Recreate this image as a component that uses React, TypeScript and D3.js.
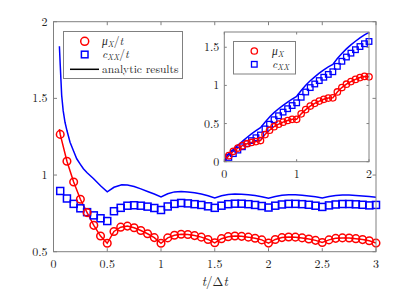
import React from "react";
import * as d3 from "d3";

// sample times (multiples of Δt/16)
const tMarks = d3.range(1, 49).map((i) => i / 16);

// μ_X / t  (markers)
const muVals = [
  1.265, 1.09, 0.955, 0.842, 0.755, 0.672, 0.602, 0.555,
  0.632, 0.66, 0.667, 0.656, 0.638, 0.617, 0.592, 0.555,
  0.59, 0.607, 0.614, 0.612, 0.605, 0.595, 0.58, 0.558,
  0.585, 0.598, 0.602, 0.6, 0.595, 0.588, 0.577, 0.556,
  0.58, 0.592, 0.596, 0.595, 0.59, 0.583, 0.574, 0.56,
  0.577, 0.587, 0.59, 0.589, 0.585, 0.579, 0.571, 0.556,
];

// c_XX / t  (markers)
const cVals = [
  0.896, 0.847, 0.812, 0.783, 0.758, 0.737, 0.718, 0.7,
  0.764, 0.786, 0.8, 0.803, 0.8, 0.794, 0.785, 0.772,
  0.795, 0.812, 0.818, 0.815, 0.81, 0.805, 0.796, 0.786,
  0.8, 0.81, 0.813, 0.813, 0.81, 0.805, 0.798, 0.788,
  0.8, 0.808, 0.812, 0.812, 0.81, 0.806, 0.8, 0.792,
  0.802, 0.808, 0.811, 0.811, 0.809, 0.806, 0.802, 0.805,
];

// analytic c_XX / t (line)
const cLineT = [
  0.055, 0.0625, 0.076, 0.09, 0.107, 0.125, 0.154, 0.1875, 0.216, 0.25, 0.278, 0.3125, 0.371, 0.4375, 0.5,
  0.5625, 0.635, 0.6875, 0.75, 0.8125, 0.875, 0.9375, 1.0,
  1.0625, 1.125, 1.1875, 1.25, 1.3125, 1.375, 1.4375, 1.5,
  1.5625, 1.625, 1.6875, 1.75, 1.8125, 1.875, 1.9375, 2.0,
  2.0625, 2.125, 2.1875, 2.25, 2.3125, 2.375, 2.4375, 2.5,
  2.5625, 2.625, 2.6875, 2.75, 2.8125, 2.875, 2.9375, 3.0,
];
const cLineV = [
  1.84, 1.72, 1.52, 1.42, 1.344, 1.29, 1.214, 1.155, 1.106, 1.07, 1.041, 1.015, 0.977, 0.93, 0.89,
  0.92, 0.937, 0.935, 0.925, 0.91, 0.893, 0.876, 0.857,
  0.878, 0.89, 0.893, 0.89, 0.884, 0.876, 0.865, 0.85,
  0.865, 0.873, 0.876, 0.875, 0.871, 0.866, 0.858, 0.848,
  0.86, 0.868, 0.871, 0.871, 0.868, 0.864, 0.858, 0.85,
  0.86, 0.866, 0.869, 0.869, 0.867, 0.864, 0.86, 0.855,
];

// analytic μ_X / t starts slightly before first marker
const muLineStartT = 0.055;
const muLineStartV = 1.3;

const mainXTicks = [0, 0.5, 1, 1.5, 2, 2.5, 3];
const mainXLabels = ["0", "0.5", "1", "1.5", "2", "2.5", "3"];
const mainYTicks = [0.5, 1, 1.5, 2];
const mainYLabels = ["0.5", "1", "1.5", "2"];
const insetXTicks = [0, 1, 2];
const insetXLabels = ["0", "1", "2"];
const insetYTicks = [0, 0.5, 1, 1.5];
const insetYLabels = ["0", "0.5", "1", "1.5"];

const RED = "#ff0000";
const BLUE = "#0000ff";
const AX = "#808080";
const TXT = "#262626";
const FONT = "Latin Modern Roman";

export default function App() {
  // main axes
  const x = d3.scaleLinear().domain([0, 3]).range([53.5, 376]);
  const y = d3.scaleLinear().domain([0.5, 2]).range([251.7, 21.7]);
  // inset axes
  const xi = d3.scaleLinear().domain([0, 2]).range([224.3, 369]);
  const yi = d3.scaleLinear().domain([0, 1.7]).range([161.7, 32]);

  const muPts = tMarks.map((t, i) => [t, muVals[i]] as [number, number]);
  const cPts = tMarks.map((t, i) => [t, cVals[i]] as [number, number]);
  const cLinePts = cLineT.map((t, i) => [t, cLineV[i]] as [number, number]);
  const muLinePts: [number, number][] = [[muLineStartT, muLineStartV], ...muPts];

  const line = d3
    .line<[number, number]>()
    .x((d) => x(d[0]))
    .y((d) => y(d[1]));

  // inset: cumulative quantities = t × (value / t)
  const insetMu = muPts.filter((d) => d[0] <= 2).map((d) => [d[0], d[0] * d[1]] as [number, number]);
  const insetC = cPts.filter((d) => d[0] <= 2).map((d) => [d[0], d[0] * d[1]] as [number, number]);
  const insetCLine: [number, number][] = [[0, 0], ...cLinePts.filter((d) => d[0] <= 2).map((d) => [d[0], d[0] * d[1]] as [number, number])];
  const insetMuLine: [number, number][] = [[0, 0], ...insetMu];

  const linei = d3
    .line<[number, number]>()
    .x((d) => xi(d[0]))
    .y((d) => yi(d[1]));

  const [mx0, mx1] = x.range();
  const [my0, my1] = y.range();
  const [ix0, ix1] = xi.range();
  const [iy0, iy1] = yi.range();
  const tk = 3.5;
  const tki = 2.5;

  const sq = 7;
  const sqi = 5.6;
  const ts: React.CSSProperties = { fontFamily: FONT };
  const LF = 11.5;
  const SF = 8;

  return (
    <svg width={415} height={290} style={{ position: "absolute", left: 0, top: 0 }}>
      <rect x={0} y={0} width={415} height={290} fill="#fff" />
      {/* main plot */}
      <defs>
        <clipPath id="mainClip">
          <rect x={mx0} y={my1} width={mx1 - mx0} height={my0 - my1} />
        </clipPath>
      </defs>
      <g clipPath="url(#mainClip)">
        <path d={line(cLinePts) ?? ""} fill="none" stroke={BLUE} strokeWidth={1.5} />
        <path d={line(muLinePts) ?? ""} fill="none" stroke={RED} strokeWidth={1.5} />
      </g>
      {cPts.map((d, i) => (
        <rect key={"c" + i} x={x(d[0]) - sq / 2} y={y(d[1]) - sq / 2} width={sq} height={sq} fill="none" stroke={BLUE} strokeWidth={1.5} />
      ))}
      {muPts.map((d, i) => (
        <circle key={"m" + i} cx={x(d[0])} cy={y(d[1])} r={3.8} fill="none" stroke={RED} strokeWidth={1.5} />
      ))}
      {/* main box + ticks */}
      <rect x={mx0} y={my1} width={mx1 - mx0} height={my0 - my1} fill="none" stroke={AX} strokeWidth={1} />
      {mainXTicks.map((t, i) => (
        <g key={"mx" + i}>
          <line x1={x(t)} x2={x(t)} y1={my0} y2={my0 - tk} stroke={AX} />
          <line x1={x(t)} x2={x(t)} y1={my1} y2={my1 + tk} stroke={AX} />
          <text style={ts} x={x(t)} y={my0 + 16} textAnchor="middle" fontSize={12} fill={TXT}>
            {mainXLabels[i]}
          </text>
        </g>
      ))}
      {mainYTicks.map((t, i) => (
        <g key={"my" + i}>
          <line x1={mx0} x2={mx0 + tk} y1={y(t)} y2={y(t)} stroke={AX} />
          <line x1={mx1} x2={mx1 - tk} y1={y(t)} y2={y(t)} stroke={AX} />
          <text style={ts} x={mx0 - 6} y={y(t) + 4} textAnchor="end" fontSize={12} fill={TXT}>
            {mainYLabels[i]}
          </text>
        </g>
      ))}
      <text style={ts} x={(mx0 + mx1) / 2} y={286} textAnchor="middle" fontSize={13} fill={TXT}>
        <tspan fontStyle="italic">t</tspan>
        <tspan>/Δ</tspan>
        <tspan fontStyle="italic">t</tspan>
      </text>

      {/* main legend */}
      <rect x={63.5} y={31.5} width={119} height={47} fill="#fff" stroke={AX} strokeWidth={1} />
      <circle cx={84.7} cy={41.3} r={4} fill="none" stroke={RED} strokeWidth={1.5} />
      <rect x={84.7 - 3.3} y={54.5 - 3.3} width={6.6} height={6.6} fill="none" stroke={BLUE} strokeWidth={1.5} />
      <line x1={70} x2={99} y1={69.3} y2={69.3} stroke="#000" strokeWidth={1.5} />
      <text style={ts} x={102} y={44.5} fontSize={LF} fill={TXT}>
        <tspan fontStyle="italic">μ</tspan>
        <tspan fontStyle="italic" fontSize={SF} dy={2.2}>X</tspan>
        <tspan dy={-2.2}>/</tspan>
        <tspan fontStyle="italic">t</tspan>
      </text>
      <text style={ts} x={102} y={58} fontSize={LF} fill={TXT}>
        <tspan fontStyle="italic">c</tspan>
        <tspan fontStyle="italic" fontSize={SF} dy={2.2}>XX</tspan>
        <tspan dy={-2.2}>/</tspan>
        <tspan fontStyle="italic">t</tspan>
      </text>
      <text style={ts} x={102} y={72.5} fontSize={LF} fill={TXT}>analytic results</text>

      {/* inset */}
      <rect x={ix0} y={iy1} width={ix1 - ix0} height={iy0 - iy1} fill="#fff" />
      <path d={linei(insetCLine) ?? ""} fill="none" stroke={BLUE} strokeWidth={1.5} />
      <path d={linei(insetMuLine) ?? ""} fill="none" stroke={RED} strokeWidth={1.5} />
      {insetC.map((d, i) => (
        <rect key={"ic" + i} x={xi(d[0]) - sqi / 2} y={yi(d[1]) - sqi / 2} width={sqi} height={sqi} fill="none" stroke={BLUE} strokeWidth={1.3} />
      ))}
      {insetMu.map((d, i) => (
        <circle key={"im" + i} cx={xi(d[0])} cy={yi(d[1])} r={3.2} fill="none" stroke={RED} strokeWidth={1.3} />
      ))}
      <rect x={ix0} y={iy1} width={ix1 - ix0} height={iy0 - iy1} fill="none" stroke={AX} strokeWidth={1} />
      {insetXTicks.map((t, i) => (
        <g key={"ix" + i}>
          <line x1={xi(t)} x2={xi(t)} y1={iy0} y2={iy0 - tki} stroke={AX} />
          <line x1={xi(t)} x2={xi(t)} y1={iy1} y2={iy1 + tki} stroke={AX} />
          <text style={ts} x={xi(t)} y={iy0 + 16} textAnchor="middle" fontSize={12} fill={TXT}>
            {insetXLabels[i]}
          </text>
        </g>
      ))}
      {insetYTicks.map((t, i) => (
        <g key={"iy" + i}>
          <line x1={ix0} x2={ix0 + tki} y1={yi(t)} y2={yi(t)} stroke={AX} />
          <line x1={ix1} x2={ix1 - tki} y1={yi(t)} y2={yi(t)} stroke={AX} />
          <text style={ts} x={ix0 - 5} y={yi(t) + 4} textAnchor="end" fontSize={12} fill={TXT}>
            {insetYLabels[i]}
          </text>
        </g>
      ))}
      {/* inset legend */}
      <rect x={233.5} y={41.5} width={62} height={32.5} fill="#fff" stroke={AX} strokeWidth={1} />
      <circle cx={254.3} cy={51} r={3.2} fill="none" stroke={RED} strokeWidth={1.3} />
      <rect x={254.3 - 2.8} y={64.3 - 2.8} width={5.6} height={5.6} fill="none" stroke={BLUE} strokeWidth={1.3} />
      <text style={ts} x={272} y={54.5} fontSize={LF} fill={TXT}>
        <tspan fontStyle="italic">μ</tspan>
        <tspan fontStyle="italic" fontSize={SF} dy={2.2}>X</tspan>
      </text>
      <text style={ts} x={272} y={67.5} fontSize={LF} fill={TXT}>
        <tspan fontStyle="italic">c</tspan>
        <tspan fontStyle="italic" fontSize={SF} dy={2.2}>XX</tspan>
      </text>
    </svg>
  );
}
